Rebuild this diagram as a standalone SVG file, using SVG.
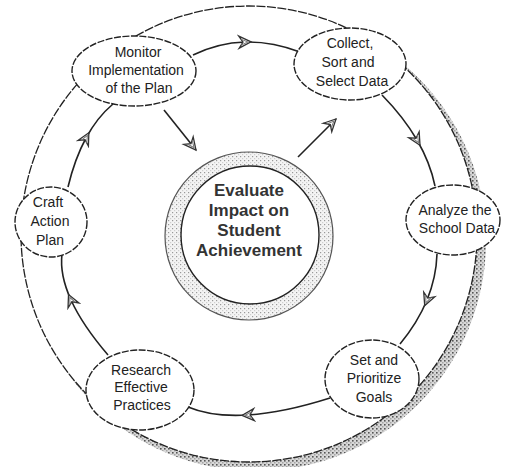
<svg xmlns="http://www.w3.org/2000/svg" width="509" height="467" viewBox="0 0 509 467">
<defs>
<pattern id="stip" width="4" height="4" patternUnits="userSpaceOnUse">
<rect width="4" height="4" fill="#d8d8d8"/>
<rect x="0" y="0" width="1.6" height="1.6" fill="#555"/>
<rect x="2.2" y="2.2" width="1.2" height="1.2" fill="#888"/>
</pattern>
<pattern id="stipLight" width="4" height="4" patternUnits="userSpaceOnUse">
<rect width="4" height="4" fill="#f4f4f4"/>
<rect x="0" y="0" width="1.2" height="1.2" fill="#999"/>
<rect x="2.2" y="2.2" width="1" height="1" fill="#bbb"/>
</pattern>
<marker id="arrMid" viewBox="0 0 16 16" refX="8" refY="8" markerWidth="16" markerHeight="16" markerUnits="userSpaceOnUse" orient="auto">
<path d="M2,2 L14,8 L2,14 L6,8 Z" fill="#fff" stroke="#333" stroke-width="1.3"/>
<path d="M4,5 L11,8 L4,11" fill="none" stroke="#777" stroke-width="1"/>
</marker>
<marker id="arrEnd" viewBox="0 0 16 16" refX="14" refY="8" markerWidth="16" markerHeight="16" markerUnits="userSpaceOnUse" orient="auto">
<path d="M2,2 L14,8 L2,14 L6,8 Z" fill="#fff" stroke="#333" stroke-width="1.3"/>
<path d="M4,5 L11,8 L4,11" fill="none" stroke="#777" stroke-width="1"/>
</marker>
</defs>
<style>
.node ellipse { fill: #fff; stroke: #222; stroke-width: 1.4; stroke-dasharray: 7 1.5; }
.lbl { font-family: "Liberation Sans", Arial, sans-serif; font-size: 14px; fill: #222; text-anchor: middle; }
.clbl { font-family: "Liberation Sans", Arial, sans-serif; font-size: 17px; font-weight: bold; fill: #333; text-anchor: middle; }
.conn path { fill: none; stroke: #222; stroke-width: 1.6; }
.ring { fill: none; stroke: #222; stroke-width: 1.3; }
</style>
<rect width="509" height="467" fill="#fff"/>

<g id="outer-ring">
<circle cx="256" cy="241" r="230" fill="url(#stip)"/>
<circle cx="249" cy="234" r="228" fill="#fff" stroke="#222" stroke-width="1.3" stroke-dasharray="9 1.5"/>
</g>

<g id="connectors" class="conn">
<path d="M193,55 Q218.25,42.75 245,42 Q271.75,41.25 300,52" marker-mid="url(#arrMid)"/>
<path d="M382,95 Q403.75,117.25 417,140 Q430.25,162.75 435,186" marker-mid="url(#arrMid)"/>
<path d="M437,254 Q436.25,277.5 427,300 Q417.75,322.5 400,344" marker-mid="url(#arrMid)"/>
<path d="M330,398 Q283.5,412.75 248,415 Q212.5,417.25 188,407" marker-mid="url(#arrMid)"/>
<path d="M108,355 Q82.5,325.25 71,300 Q59.5,274.75 62,254" marker-mid="url(#arrMid)"/>
<path d="M68,187 Q74.75,158.75 86,138 Q97.25,117.25 113,104" marker-mid="url(#arrMid)"/>
<path d="M164,110 L196,150" marker-end="url(#arrEnd)"/>
<path d="M298,157 L336,119" marker-end="url(#arrEnd)"/>
</g>

<g id="center" class="node">
<circle cx="249" cy="236" r="84" fill="url(#stipLight)" stroke="#555" stroke-width="1.2"/>
<circle cx="250" cy="235" r="69" fill="#fff" stroke="#222" stroke-width="1.4"/>
<text class="clbl" x="249" y="196">Evaluate</text>
<text class="clbl" x="249" y="216">Impact on</text>
<text class="clbl" x="249" y="236">Student</text>
<text class="clbl" x="249" y="256">Achievement</text>
</g>

<g id="monitor" class="node">
<ellipse cx="134" cy="71" rx="62" ry="35"/>
<text class="lbl" x="138" y="57">Monitor</text>
<text class="lbl" x="136" y="75">Implementation</text>
<text class="lbl" x="139" y="93">of the Plan</text>
</g>

<g id="collect" class="node">
<ellipse cx="350" cy="64" rx="56" ry="36"/>
<text class="lbl" x="350" y="48">Collect,</text>
<text class="lbl" x="348" y="67">Sort and</text>
<text class="lbl" x="352" y="86">Select Data</text>
</g>

<g id="analyze" class="node">
<ellipse cx="453" cy="220" rx="47" ry="35"/>
<text class="lbl" x="455" y="215">Analyze the</text>
<text class="lbl" x="457" y="233">School Data</text>
</g>

<g id="set" class="node">
<ellipse cx="372" cy="379" rx="47" ry="39"/>
<text class="lbl" x="374" y="365">Set and</text>
<text class="lbl" x="374" y="383">Prioritize</text>
<text class="lbl" x="374" y="402">Goals</text>
</g>

<g id="research" class="node">
<ellipse cx="140" cy="390" rx="54" ry="40"/>
<text class="lbl" x="141" y="375">Research</text>
<text class="lbl" x="141" y="392">Effective</text>
<text class="lbl" x="142" y="410">Practices</text>
</g>

<g id="craft" class="node">
<ellipse cx="51" cy="222" rx="36" ry="35"/>
<text class="lbl" x="48" y="207">Craft</text>
<text class="lbl" x="50" y="226">Action</text>
<text class="lbl" x="50" y="245">Plan</text>
</g>
</svg>
